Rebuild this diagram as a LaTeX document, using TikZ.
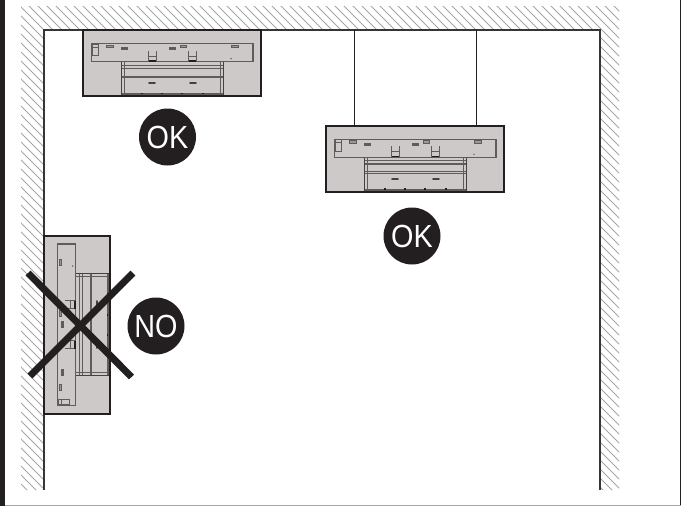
\documentclass[tikz,border=0pt]{standalone}
\usepackage{fontspec}
\setmainfont{Liberation Sans}
\definecolor{ink}{HTML}{231F20}
\definecolor{unitfill}{HTML}{CDC9C8}
\definecolor{detail}{HTML}{5F5C5A}
\definecolor{hatchc}{HTML}{A6A6A6}
\tikzset{
  wall/.style={draw=ink!90!white,line width=2.8pt,line cap=butt},
  hatchline/.style={draw=hatchc,line width=0.85pt},
  unitbox/.style={draw=ink,fill=unitfill,line width=2.4pt},
  fine/.style={draw=detail,line width=0.8pt},
  thick detail/.style={draw=detail,line width=1.4pt},
  badge/.style={circle,fill=ink,text=white,minimum size=57pt,inner sep=0pt,font=\fontsize{32}{32}\selectfont},
  cross/.style={draw=ink,line width=7pt},
  unitpart/.pic={
    \path[unitbox] (0,0) rectangle (178,66);
    % back bar
    \draw[thick detail] (8.7,13.5) rectangle (170,31.7);
    \draw[fine] (9.7,14) rectangle (15,25.5);
    \draw[fine] (9.7,17) -- (15,17);
    % tabs
    \foreach \a in {23.7,97.3,148.7}{\draw[fine,fill=unitfill!75!black] (\a,15) rectangle ++(6.4,2.3);}
    \foreach \a in {38.2,86.4}{\draw[fine,fill=unitfill!45!black] (\a,17.4) rectangle ++(6.2,1.9);}
    % brackets
    \foreach \a in {65.5,105.5}{
      \draw[fine] (\a,20.5) -- (\a,31) -- (\a+7.8,31) -- (\a+7.8,20.5);
      \draw[fine] (\a,26) -- (\a+7.8,26);
      \draw[draw=ink,line width=1.3pt] (\a,31) -- (\a+7.8,31);
    }
    \fill[detail] (148,28.7) circle (0.8);
    % drawer
    \draw[draw=ink!85!white,line width=1.1pt] (38.7,32) -- (38.7,66) (140.3,32) -- (140.3,66);
    \draw[fine] (41.5,32) -- (41.5,64) (137.5,32) -- (137.5,64);
    \draw[fine] (38.7,35) -- (140.3,35);
    \draw[thick detail] (38.7,38.3) -- (140.3,38.3);
    \draw[fine] (38.7,46) -- (140.3,46);
    \draw[thick detail] (38.7,47.7) -- (140.3,47.7);
    \fill[detail] (38.7,63.3) rectangle (140.3,66);
    \foreach \a in {58.7,79.3,99.3,119.7}{\fill[ink] (\a-0.9,62.6) rectangle (\a+0.9,64.2);}
    \foreach \a in {69,110}{\draw[draw=ink!85!white,line width=2pt,line cap=round] (\a-2.8,53.3) -- (\a+2.8,53.3);}
    \path[draw=ink,line width=2.4pt] (0,0) rectangle (178,66);
  }
}
\newcommand{\narrowtext}[1]{\scalebox{0.9}[1]{#1}}
\begin{document}
\begin{tikzpicture}[x=1pt,y=-1pt]
\useasboundingbox (0,0) rectangle (681,506);
\fill[white] (0,0) rectangle (681,506);
% page frame
\fill[ink] (0,0) rectangle (4.6,506);
\fill[ink] (680,0) rectangle (681,506);
\fill[hatchc] (4.6,505) rectangle (681,506);
% hatching
\begin{scope}
\clip (21,6) -- (619,6) -- (619,490) -- (600,490) -- (600,30) -- (44,30) -- (44,490) -- (21,490) -- cycle;
\foreach \c in {-490,-481,...,620}{
  \draw[hatchline] (\c,0) -- ++(500,500);
}
\end{scope}
% walls
\draw[wall] (44,490) -- (44,30) -- (600,30) -- (600,490);
% wires
\coordinate (w1a) at (354.3,30); \coordinate (w1b) at (354.3,126);
\coordinate (w2a) at (476.3,30); \coordinate (w2b) at (476.3,126);
\draw[draw=ink,line width=1pt] (w1a) -- (w1b) (w2a) -- (w2b);
% units
\pic at (83,30) {unitpart};
\pic at (326,125.7) {unitpart};
\pic[rotate=90] at (44,414) {unitpart};
% cross
\coordinate (c1) at (28,273); \coordinate (c2) at (131.5,377);
\coordinate (c3) at (30,376); \coordinate (c4) at (133,273);
\draw[cross] (c1) -- (c2) (c3) -- (c4);
% badges
\node[badge] (ok1) at (167.5,137) {\narrowtext{OK}};
\node[badge] (ok2) at (412,236) {\narrowtext{OK}};
\node[badge] (no) at (156,326) {\narrowtext{NO}};
\end{tikzpicture}
\end{document}
